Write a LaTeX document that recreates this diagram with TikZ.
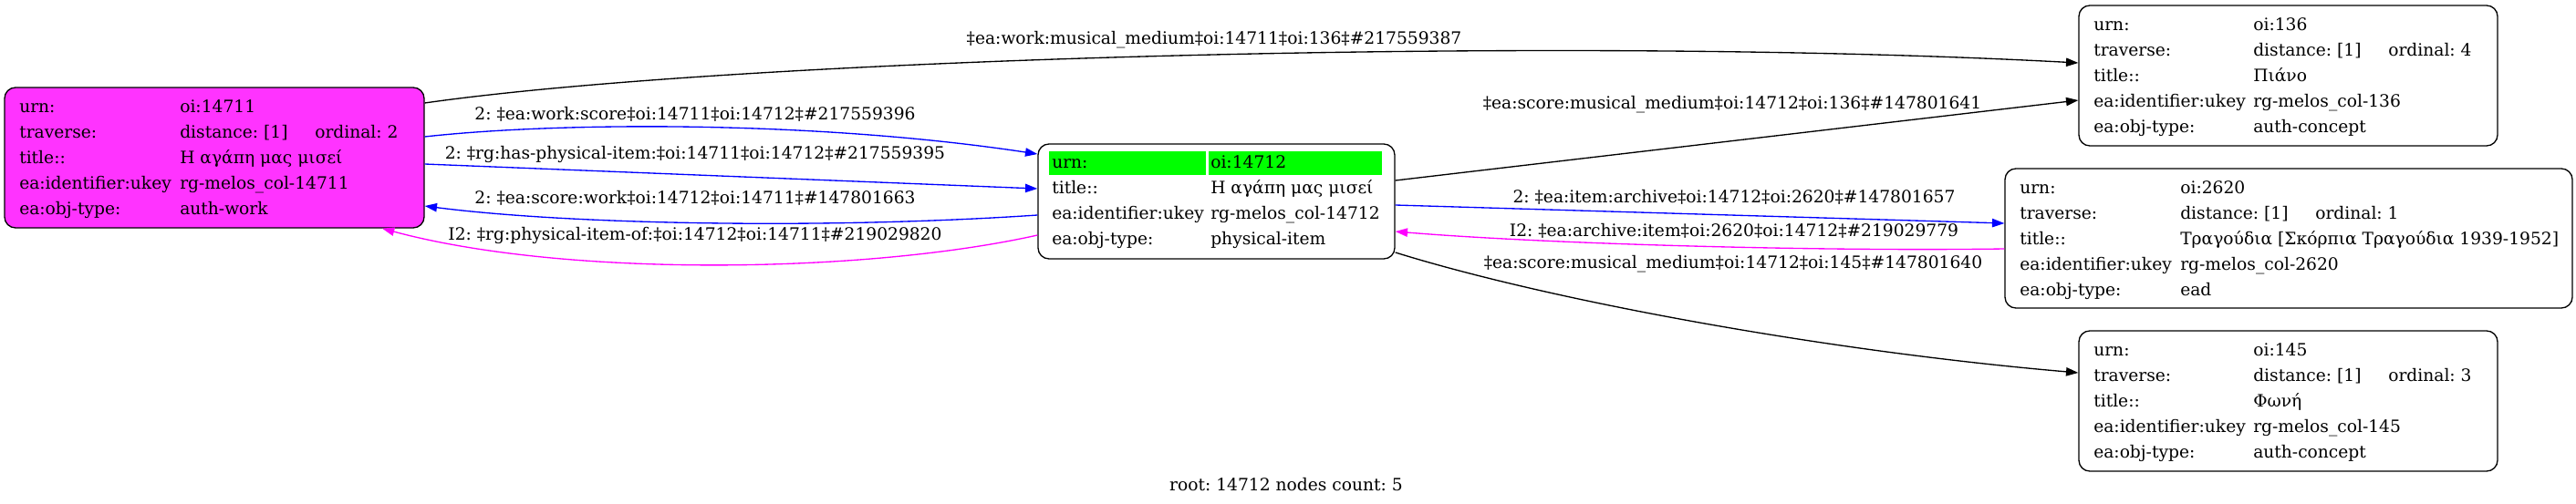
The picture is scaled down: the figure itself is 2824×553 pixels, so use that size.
\documentclass[tikz,border=0pt]{standalone}
\usepackage{fontspec}
\setmainfont{DejaVu Serif}
\usetikzlibrary{arrows.meta}
\definecolor{nodemag}{RGB}{255,51,255}
\definecolor{edgemag}{RGB}{255,0,255}
\definecolor{edgeblue}{RGB}{0,0,255}
\definecolor{cellgreen}{RGB}{0,255,0}
\frenchspacing
\begin{document}
\begin{tikzpicture}[x=0.75pt,y=-0.75pt,
  box/.style={draw=black, line width=1pt, rounded corners=9pt, inner sep=0pt},
  cell/.style={fill=cellgreen, inner sep=0pt, minimum height=19.5pt},
  txt/.style={inner sep=0pt, anchor=west, text height=13.3pt, text depth=3.5pt, font=\fontsize{14}{16}\selectfont},
  lbl/.style={inner sep=0pt, text height=13.3pt, text depth=3.5pt, font=\fontsize{14}{16}\selectfont},
  edgeline/.style={line width=1pt, -{Triangle[length=10pt,width=7pt]}}]
\useasboundingbox (0,0) rectangle (2824,553);

% ---------- boxes ----------
\node[box, fill=nodemag, minimum width=345pt, minimum height=115.5pt] (n14711) at (235,173) {};
\node[box, fill=white, minimum width=293.25pt, minimum height=94.5pt] (n14712) at (1333.5,221) {};
\node[box, fill=white, minimum width=344.25pt, minimum height=115.5pt] (n136) at (2508.5,83) {};
\node[box, fill=white, minimum width=466.5pt, minimum height=114.75pt] (n2620) at (2509,261.5) {};
\node[box, fill=white, minimum width=344.25pt, minimum height=115.5pt] (n145) at (2508.5,440) {};

% ---------- node 14711 ----------
\node[txt] (a1k) at (21,117) {urn:};
\node[txt] (a1v) at (197,117) {oi:14711};
\node[txt] (a2k) at (21,145) {traverse:};
\node[txt] (a2v) at (197,145) {distance: [1]};
\node[txt] (a2o) at (345,145) {ordinal: 2};
\node[txt] (a3k) at (21,173) {title::};
\node[txt] (a3v) at (197,173) {Η αγάπη μας μισεί};
\node[txt] (a4k) at (21,201) {ea:identifier:ukey};
\node[txt] (a4v) at (197,201) {rg-melos\_col-14711};
\node[txt] (a5k) at (21,229) {ea:obj-type:};
\node[txt] (a5v) at (197,229) {auth-work};

% ---------- node 14712 ----------
\node[cell, minimum width=129pt] (gk) at (1236,179) {};
\node[cell, minimum width=142.5pt] (gv) at (1420,179) {};
\node[txt] (b1k) at (1153,178) {urn:};
\node[txt] (b1v) at (1327,178) {oi:14712};
\node[txt] (b2k) at (1153,206) {title::};
\node[txt] (b2v) at (1327,206) {Η αγάπη μας μισεί};
\node[txt] (b3k) at (1153,234) {ea:identifier:ukey};
\node[txt] (b3v) at (1327,234) {rg-melos\_col-14712};
\node[txt] (b4k) at (1153,262) {ea:obj-type:};
\node[txt] (b4v) at (1327,262) {physical-item};

% ---------- node 136 ----------
\node[txt] (c1k) at (2295,27) {urn:};
\node[txt] (c1v) at (2470,27) {oi:136};
\node[txt] (c2k) at (2295,55) {traverse:};
\node[txt] (c2v) at (2470,55) {distance: [1]};
\node[txt] (c2o) at (2618,55) {ordinal: 4};
\node[txt] (c3k) at (2295,83) {title::};
\node[txt] (c3v) at (2470,83) {Πιάνο};
\node[txt] (c4k) at (2295,111) {ea:identifier:ukey};
\node[txt] (c4v) at (2470,111) {rg-melos\_col-136};
\node[txt] (c5k) at (2295,139) {ea:obj-type:};
\node[txt] (c5v) at (2470,139) {auth-concept};

% ---------- node 2620 ----------
\node[txt] (d1k) at (2214,206) {urn:};
\node[txt] (d1v) at (2390,206) {oi:2620};
\node[txt] (d2k) at (2214,234) {traverse:};
\node[txt] (d2v) at (2390,234) {distance: [1]};
\node[txt] (d2o) at (2538,234) {ordinal: 1};
\node[txt] (d3k) at (2214,262) {title::};
\node[txt] (d3v) at (2390,262) {Τραγούδια [Σκόρπια Τραγούδια 1939-1952]};
\node[txt] (d4k) at (2214,290) {ea:identifier:ukey};
\node[txt] (d4v) at (2390,290) {rg-melos\_col-2620};
\node[txt] (d5k) at (2214,318) {ea:obj-type:};
\node[txt] (d5v) at (2390,318) {ead};

% ---------- node 145 ----------
\node[txt] (e1k) at (2295,384) {urn:};
\node[txt] (e1v) at (2470,384) {oi:145};
\node[txt] (e2k) at (2295,412) {traverse:};
\node[txt] (e2v) at (2470,412) {distance: [1]};
\node[txt] (e2o) at (2618,412) {ordinal: 3};
\node[txt] (e3k) at (2295,440) {title::};
\node[txt] (e3v) at (2470,440) {Φωνή};
\node[txt] (e4k) at (2295,468) {ea:identifier:ukey};
\node[txt] (e4v) at (2470,468) {rg-melos\_col-145};
\node[txt] (e5k) at (2295,496) {ea:obj-type:};
\node[txt] (e5v) at (2470,496) {auth-concept};

% ---------- edges ----------
\draw[edgeline, black] ([yshift=45pt]n14711.east) .. controls (800,65) and (1700,38) .. ([yshift=10.5pt]n136.west);
\node[lbl] (l1) at (1331,42) {‡ea:work:musical\_medium‡oi:14711‡oi:136‡\#217559387};

\draw[edgeline, edgeblue] ([yshift=17.25pt]n14711.east) .. controls (620,133) and (900,133) .. ([yshift=39pt]n14712.west);
\node[lbl] (l2) at (762,125) {2: ‡ea:work:score‡oi:14711‡oi:14712‡\#217559396};

\draw[edgeline, edgeblue] ([yshift=-5.25pt]n14711.east) -- ([yshift=10.5pt]n14712.west);
\node[lbl] (l3) at (762,168) {2: ‡rg:has-physical-item:‡oi:14711‡oi:14712‡\#217559395};

\draw[edgeline, edgeblue] ([yshift=-11.25pt]n14712.west) .. controls (900,252) and (620,246) .. ([yshift=-39.75pt]n14711.east);
\node[lbl] (l4) at (762,217) {2: ‡ea:score:work‡oi:14712‡oi:14711‡\#147801663};

\draw[edgeline, edgemag] ([yshift=-27.75pt]n14712.west) .. controls (950,300) and (620,305) .. ([xshift=138pt]n14711.south);
\node[lbl] (l5) at (762,257) {I2: ‡rg:physical-item-of:‡oi:14712‡oi:14711‡\#219029820};

\draw[edgeline, black] ([yshift=17.25pt]n14712.east) -- ([yshift=-20.25pt]n136.west);
\node[lbl] (l6) at (1899,113) {‡ea:score:musical\_medium‡oi:14712‡oi:136‡\#147801641};

\draw[edgeline, edgeblue] ([yshift=-3pt]n14712.east) -- ([yshift=12.375pt]n2620.west);
\node[lbl] (l7) at (1901,216) {2: ‡ea:item:archive‡oi:14712‡oi:2620‡\#147801657};

\draw[edgeline, edgemag] ([yshift=-8.625pt]n2620.west) .. controls (2000,276) and (1700,268) .. ([yshift=-24.75pt]n14712.east);
\node[lbl] (l8) at (1901,253) {I2: ‡ea:archive:item‡oi:2620‡oi:14712‡\#219029779};

\draw[edgeline, black] ([yshift=-42pt]n14712.east) .. controls (1700,330) and (2000,385) .. ([yshift=23.25pt]n145.west);
\node[lbl] (l9) at (1900,288) {‡ea:score:musical\_medium‡oi:14712‡oi:145‡\#147801640};

% ---------- footer ----------
\node[lbl] (footer) at (1410,532) {root: 14712 nodes count: 5};
\end{tikzpicture}
\end{document}
